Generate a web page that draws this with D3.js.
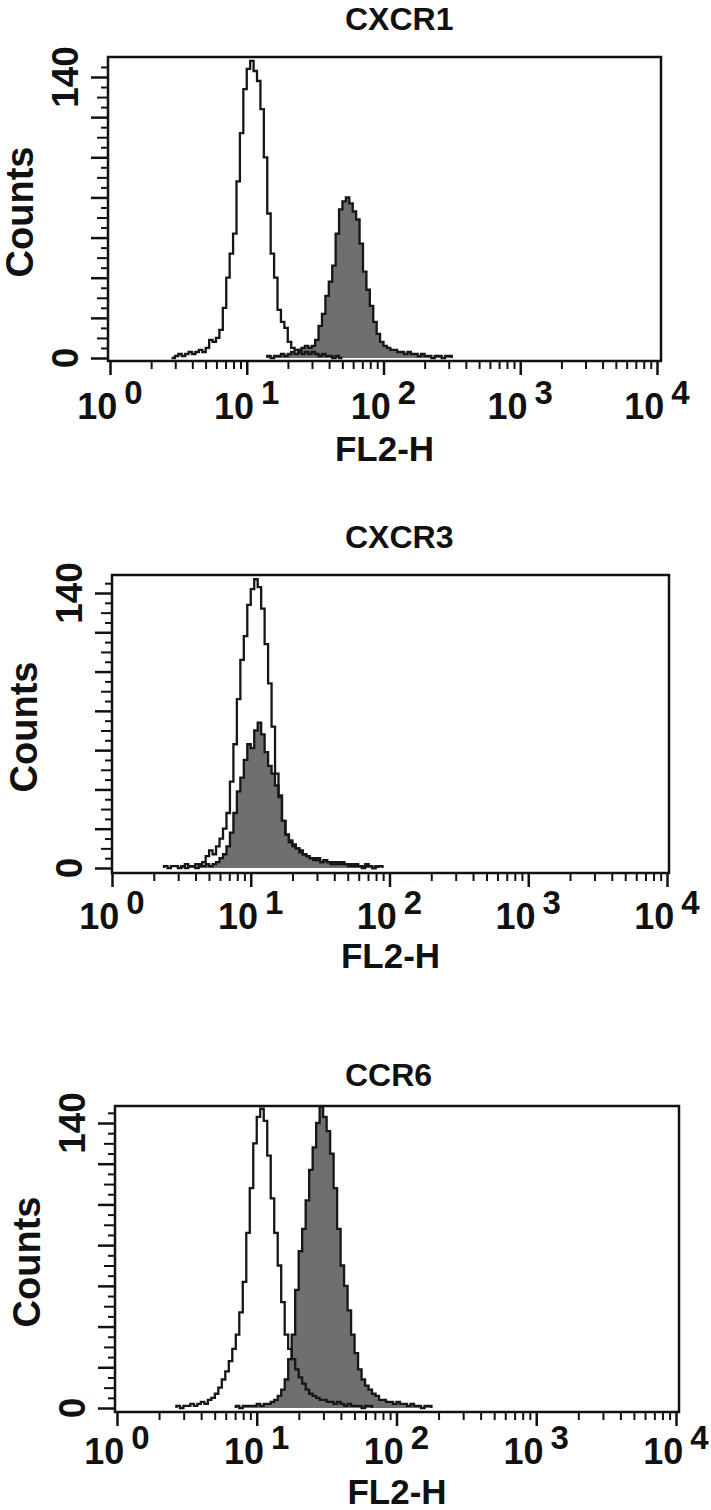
<!DOCTYPE html>
<html>
<head>
	<meta charset="utf-8">
	<title>FL2-H histograms</title>
	<script type="text/javascript" src="https://d3js.org/d3.v7.min.js"></script>
	<style>
		body { margin: 0; background: #fff; }
		svg text { font-family: "Liberation Sans", Arial, sans-serif; font-weight: bold; fill: #111; }
	</style>
</head>
<body>
	<script type="text/javascript">
		var width = 711,
			height = 1510;

		// histogram channels: 40 channels per decade of FL2-H
		var channelsPerDecade = 40;
		var panelTitles = ['CXCR1', 'CXCR3', 'CCR6'];
		var xTickExponents = ['0', '1', '2', '3', '4'];
		var yTickLabels = [0, 140];
		var yMax = 150;

		// CXCR1 (control = open, stained = grey)
		var cxcr1ControlFrom = 18;
		var cxcr1Control = [0, 1, 2, 1, 2, 3, 2, 3, 4, 3, 5, 9, 8, 10, 14, 25, 40, 52, 62, 88,
			112, 134, 144, 148, 143, 138, 124, 100, 72, 52, 40, 24, 18, 15, 8, 5, 4, 3, 2, 3,
			2, 3, 2, 1, 2, 1, 1, 0, 1, 0];
		var cxcr1StainedFrom = 46;
		var cxcr1Stained = [1, 0, 1, 1, 2, 1, 2, 3, 2, 4, 5, 6, 5, 6, 9, 16, 22, 31, 38, 46,
			62, 74, 78, 80, 77, 73, 69, 57, 43, 34, 26, 18, 12, 8, 6, 5, 4, 4, 3, 3,
			2, 3, 2, 2, 1, 2, 1, 1, 0, 1, 1, 0, 1, 1];

		// CXCR3
		var cxcr3ControlFrom = 15;
		var cxcr3Control = [1, 0, 1, 1, 0, 1, 2, 1, 1, 2, 2, 3, 6, 9, 7, 11, 15, 20, 28, 44,
			63, 86, 106, 118, 134, 142, 147, 143, 132, 114, 94, 72, 48, 36, 24, 17, 13, 11, 10, 8,
			7, 6, 5, 5, 4, 3, 4, 3, 2, 3, 2, 3, 2, 2, 1, 2, 1, 1, 2, 1, 0, 1, 1];
		var cxcr3StainedFrom = 20;
		var cxcr3Stained = [1, 0, 1, 1, 0, 1, 1, 2, 1, 2, 3, 5, 7, 11, 18, 28, 39, 46, 55, 63,
			61, 70, 74, 68, 59, 52, 48, 42, 37, 24, 17, 14, 12, 10, 9, 7, 6, 5, 4, 5,
			3, 4, 3, 3, 2, 3, 2, 2, 1, 2, 1, 1, 0, 1, 1, 0, 1];

		// CCR6
		var ccr6ControlFrom = 17;
		var ccr6Control = [1, 0, 1, 1, 2, 1, 2, 3, 2, 4, 5, 7, 10, 14, 18, 23, 29, 36, 47, 62,
			86, 108, 130, 143, 147, 141, 124, 103, 86, 70, 52, 36, 29, 24, 19, 15, 12, 9, 7, 6,
			5, 4, 4, 3, 3, 2, 3, 2, 1, 2, 1, 1, 1, 0, 1, 1];
		var ccr6StainedFrom = 34;
		var ccr6Stained = [1, 0, 1, 1, 1, 1, 2, 1, 2, 2, 3, 4, 6, 9, 14, 24, 36, 58, 77, 88,
			102, 117, 128, 140, 148, 143, 136, 125, 108, 88, 70, 60, 48, 36, 27, 19, 14, 11, 9, 7,
			6, 4, 4, 3, 3, 2, 3, 2, 2, 1, 2, 1, 1, 0, 1, 1];

		var panelData = [
			{control: [cxcr1ControlFrom, cxcr1Control], stained: [cxcr1StainedFrom, cxcr1Stained]},
			{control: [cxcr3ControlFrom, cxcr3Control], stained: [cxcr3StainedFrom, cxcr3Stained]},
			{control: [ccr6ControlFrom, ccr6Control], stained: [ccr6StainedFrom, ccr6Stained]}
		];

		// where each panel sits on the page
		var layout = [
			{left: 108, top: 57, right: 661, bottom: 361, x0: 110, x4: 657, y0: 358, y140: 77, titleY: 30, tickY: 419, labelY: 461},
			{left: 112, top: 575, right: 669, bottom: 873, x0: 112, x4: 667, y0: 868, y140: 593, titleY: 548, tickY: 929, labelY: 968},
			{left: 115, top: 1106, right: 679, bottom: 1412, x0: 117, x4: 676, y0: 1408, y140: 1123, titleY: 1086, tickY: 1464, labelY: 1504}
		];

		var svg = d3.select('body')
					.append('svg')
					.attr('width', width)
					.attr('height', height);

		function binPoints(from, counts){
			var pts = [[Math.pow(10, from / channelsPerDecade), 0]];
			counts.forEach(function(c, i){
				pts.push([Math.pow(10, (from + i) / channelsPerDecade), c]);
			});
			pts.push([Math.pow(10, (from + counts.length) / channelsPerDecade), 0]);
			return pts;
		}

		var majorX = [1, 10, 100, 1000, 10000];
		var minorX = [];
		for (var d = 1; d < 10000; d *= 10) {
			for (var m = 2; m < 10; m++) minorX.push(d * m);
		}
		var majorY = d3.range(0, 141, 20);
		var minorY = d3.range(0, 146, 5).filter(function(v){ return v % 20 !== 0; });

		function drawPanel(p, i){
			var L = layout[i];
			var g = svg.append('g');
			var x = d3.scaleLog().domain([1, 10000]).range([L.x0, L.x4]);
			var k = (L.y0 - L.y140) / 140;
			var y = d3.scaleLinear().domain([0, yMax]).range([L.y0, L.y0 - yMax * k]);

			var area = d3.area()
						.x(function(d){ return x(d[0]); })
						.y0(y(0))
						.y1(function(d){ return y(d[1]); })
						.curve(d3.curveStepAfter);
			var line = d3.line()
						.x(function(d){ return x(d[0]); })
						.y(function(d){ return y(d[1]); })
						.curve(d3.curveStepAfter);

			var stained = binPoints(p.stained[0], p.stained[1]);
			var control = binPoints(p.control[0], p.control[1]);

			g.append('path').attr('d', area(stained)).attr('fill', '#6f6f6f');
			g.append('path').attr('d', line(stained))
				.attr('fill', 'none').attr('stroke', '#161616').attr('stroke-width', 2.3);
			g.append('path').attr('d', line(control))
				.attr('fill', 'none').attr('stroke', '#161616').attr('stroke-width', 2.3);

			// frame
			g.append('rect')
				.attr('x', L.left).attr('y', L.top)
				.attr('width', L.right - L.left).attr('height', L.bottom - L.top)
				.attr('fill', 'none').attr('stroke', '#111').attr('stroke-width', 2.5);

			// x ticks
			g.append('g').attr('transform', 'translate(0,' + L.bottom + ')')
				.call(d3.axisBottom(x).tickValues(majorX).tickSize(14).tickFormat(''))
				.call(function(a){ a.select('.domain').remove(); a.selectAll('line').attr('stroke-width', 2.5).attr('stroke', '#111'); });
			g.append('g').attr('transform', 'translate(0,' + L.bottom + ')')
				.call(d3.axisBottom(x).tickValues(minorX).tickSize(8).tickFormat(''))
				.call(function(a){ a.select('.domain').remove(); a.selectAll('line').attr('stroke-width', 2).attr('stroke', '#111'); });

			// y ticks
			g.append('g').attr('transform', 'translate(' + L.left + ',0)')
				.call(d3.axisLeft(y).tickValues(majorY).tickSize(17).tickFormat(''))
				.call(function(a){ a.select('.domain').remove(); a.selectAll('line').attr('stroke-width', 2.5).attr('stroke', '#111'); });
			g.append('g').attr('transform', 'translate(' + L.left + ',0)')
				.call(d3.axisLeft(y).tickValues(minorY).tickSize(8).tickFormat(''))
				.call(function(a){
					a.select('.domain').remove();
					a.selectAll('line').attr('stroke-width', 2).attr('stroke', '#111')
						.attr('x2', function(d){ return d % 10 === 0 ? -11 : -7; });
				});

			// x tick labels
			var xl = g.selectAll('text.xt').data(xTickExponents).enter()
				.append('text').attr('class', 'xt')
				.attr('x', function(d){ return x(Math.pow(10, +d)); })
				.attr('y', L.tickY)
				.attr('text-anchor', 'middle')
				.style('font-size', '36px');
			xl.append('tspan').text('10');
			xl.append('tspan').attr('dx', 7).attr('dy', -15).style('font-size', '33px').text(function(d){ return d; });

			// y tick labels, rotated
			g.selectAll('text.yt').data(yTickLabels).enter()
				.append('text').attr('class', 'yt')
				.attr('transform', function(d){ return 'translate(' + (L.left - 30) + ',' + y(d) + ') rotate(-90)'; })
				.attr('text-anchor', 'middle')
				.style('font-size', '37px')
				.text(function(d){ return d; });

			g.append('text')
				.attr('transform', 'translate(' + (L.left - 75) + ',' + ((L.top + L.bottom) / 2 + 3) + ') rotate(-90)')
				.attr('text-anchor', 'middle')
				.style('font-size', '38px')
				.text('Counts');

			g.append('text')
				.attr('x', (L.left + L.right) / 2).attr('y', L.labelY)
				.attr('text-anchor', 'middle')
				.style('font-size', '35px')
				.text('FL2-H');

			g.append('text')
				.attr('x', 345).attr('y', L.titleY)
				.style('font-size', '32px')
				.text(panelTitles[i]);
		}

		panelData.forEach(drawPanel);
	</script>
</body>
</html>
